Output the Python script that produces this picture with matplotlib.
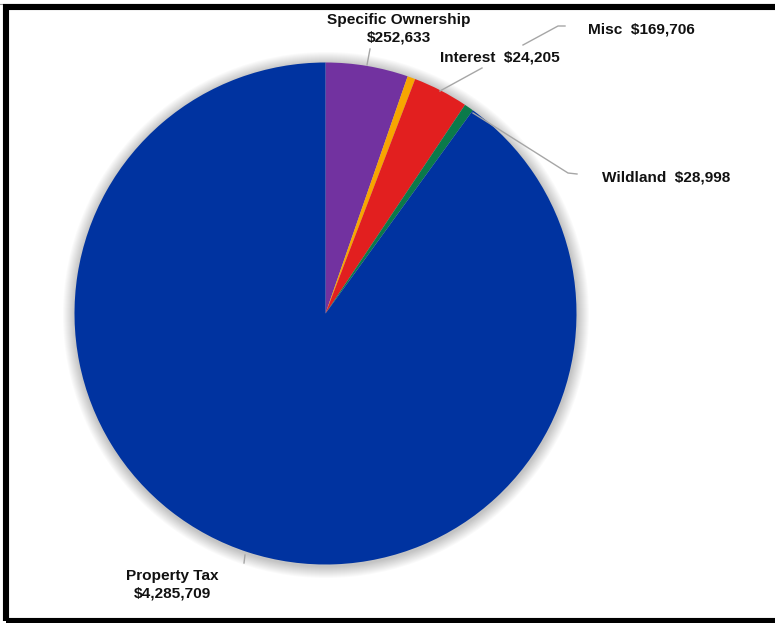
import matplotlib
matplotlib.use("Agg")
import matplotlib.pyplot as plt
from matplotlib.patches import Circle, Rectangle

categories = ["Specific Ownership", "Interest", "Misc", "Wildland", "Property Tax"]
values = [252633, 24205, 169706, 28998, 4285709]
value_labels = ["$252,633", "$24,205", "$169,706", "$28,998", "$4,285,709"]
colors = ["#7232A0", "#F7A600", "#E21F1F", "#0B7A4A", "#0033A0"]

W, H = 775, 623
fig = plt.figure(figsize=(W / 100, H / 100), dpi=100)
ax = fig.add_axes([0, 0, 1, 1])
ax.set_xlim(0, W)
ax.set_ylim(0, H)
ax.set_aspect("equal")
ax.axis("off")

def Y(y):
    return H - y

cx, cy, r = 325.5, Y(313.5), 251

# soft shadow
for k in range(12, 0, -1):
    ax.add_patch(Circle((cx + 0.5, cy - 1.5), r + k, color="#000000", alpha=0.018, lw=0, zorder=1))

ax.pie(values, colors=colors, startangle=90, counterclock=False,
       center=(cx, cy), radius=r, frame=True,
       wedgeprops=dict(linewidth=0, zorder=2))
ax.set_xlim(0, W)
ax.set_ylim(0, H)
ax.axis("off")

fp = dict(family=["Liberation Sans", "DejaVu Sans"], fontsize=11.1, fontweight="bold", color="#111111")
lc = "#A6A6A6"

def line(pts):
    xs = [p[0] for p in pts]
    ys = [Y(p[1]) for p in pts]
    ax.plot(xs, ys, color=lc, lw=1.0, zorder=3)

# Specific Ownership
ax.text(399, Y(20), categories[0], ha="center", va="center", **fp)
ax.text(399, Y(38), value_labels[0], ha="center", va="center", **fp)
line([(370, 49), (367, 65)])

# Interest
ax.text(440, Y(58), f"{categories[1]}  {value_labels[1]}", ha="left", va="center", **fp)
line([(482, 68), (440, 91)])

# Misc
ax.text(588, Y(30), f"{categories[2]}  {value_labels[2]}", ha="left", va="center", **fp)
line([(565, 26), (558, 26), (523, 45)])

# Wildland
ax.text(602, Y(178), f"{categories[3]}  {value_labels[3]}", ha="left", va="center", **fp)
line([(473, 113), (568, 173), (577, 174)])

# Property Tax
ax.text(172, Y(576), categories[4], ha="center", va="center", **fp)
ax.text(172, Y(593), value_labels[4], ha="center", va="center", **fp)
line([(245, 555), (244, 563)])

# frame border
ax.add_patch(Rectangle((5.5, Y(620.5)), 800, 620.5 - 7, fill=False,
                       edgecolor="black", lw=4.4, zorder=5, clip_on=False))
ax.plot([0, W], [Y(3.8), Y(3.8)], color="#9a9a9a", lw=0.8, zorder=4)

fig.savefig("out.png", dpi=100, facecolor="white")
